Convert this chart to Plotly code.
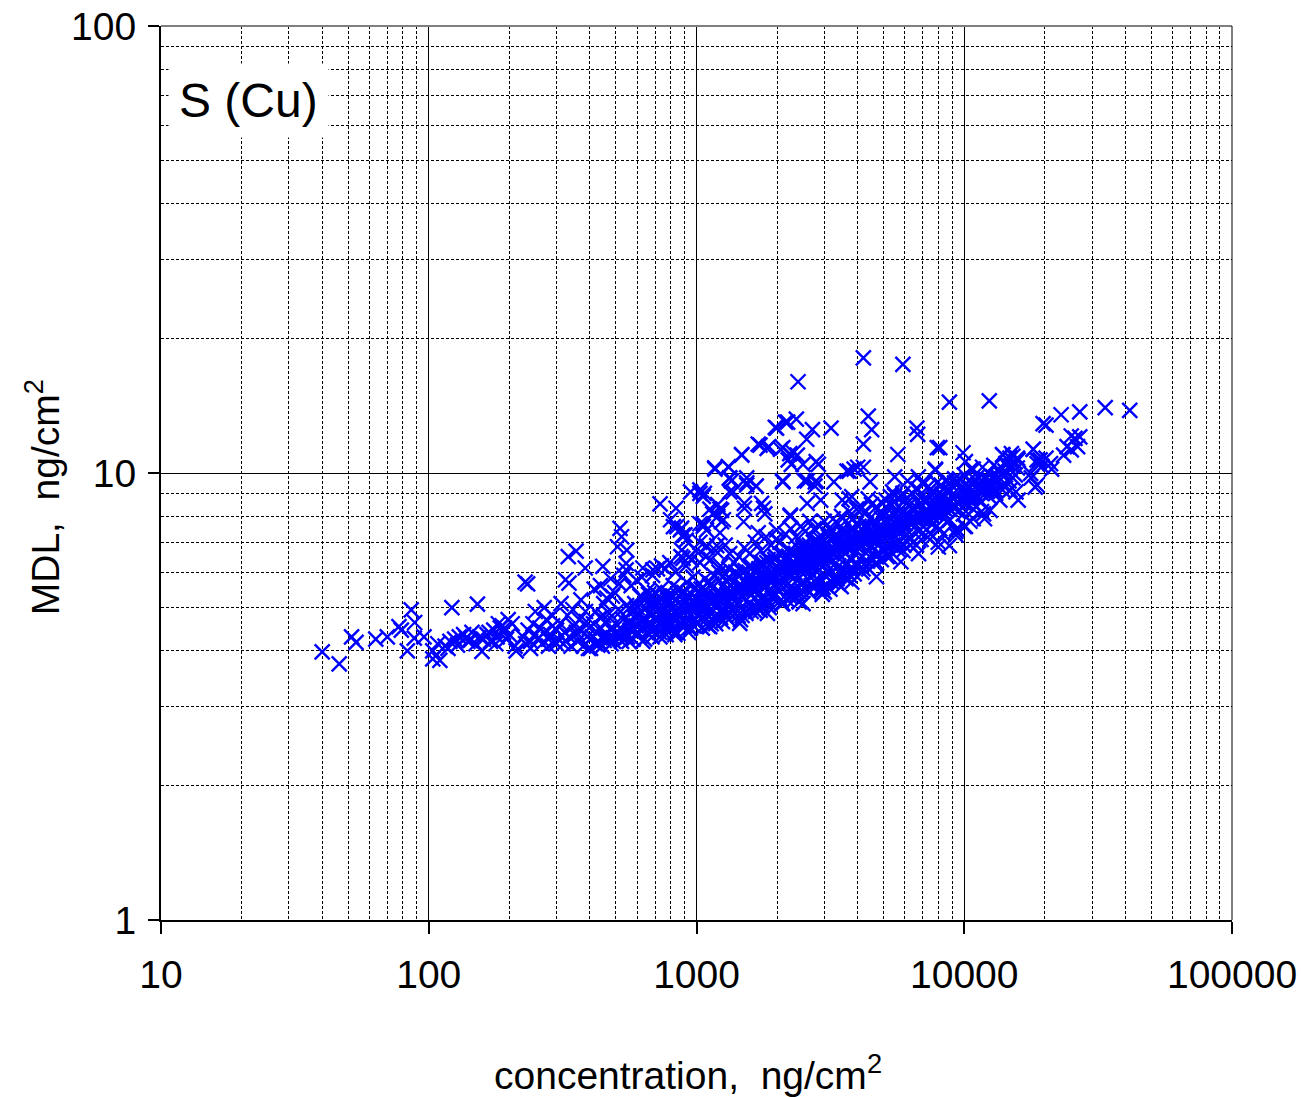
import plotly.graph_objects as go

# ---------------- data (concentration, ng/cm2  vs  MDL, ng/cm2) ----------------
conc_tail = [40, 46.3, 51.5, 53.5, 63.4, 70, 77.4, 79, 83.2, 86,
             88.6, 88.3, 96, 103.5, 103.5, 110, 122, 152,
             108, 115, 120, 125, 130, 135, 140, 145, 150, 155,
             160, 165, 170, 175, 180, 185, 190, 195, 200, 205,
             210, 158, 212, 182, 192, 198,
             118, 128, 138, 143, 168, 178, 188]
mdl_tail = [3.98, 3.74, 4.30, 4.18, 4.25, 4.30, 4.53, 4.45, 4.0, 4.94,
            4.63, 4.27, 4.30, 4.0, 3.84, 3.81, 5.0, 5.09,
            4.15, 4.1, 4.2, 4.25, 4.3, 4.35, 4.2, 4.4, 4.15, 4.3,
            4.25, 4.35, 4.2, 4.45, 4.3, 4.5, 4.4, 4.25, 4.35, 4.6,
            4.1, 3.99, 4.0, 4.6, 4.5, 4.7,
            4.05, 4.12, 4.28, 4.22, 4.4, 4.15, 4.55]

conc_low = [
    225, 230, 235, 240, 245, 250, 255, 260, 265, 270, 275, 280, 285, 290, 295, 300, 250, 270, 290, 240, 280, 300,
    305, 310, 318, 322, 330, 335, 340, 348, 352, 360, 365, 372, 378, 385, 390, 395, 398, 312, 345, 370, 388, 325, 356,
    402, 408, 412, 418, 420, 425, 430, 436, 440, 445, 450, 455, 460, 468, 472, 480, 485, 490, 498, 505,
    510, 518, 525, 532, 540, 548, 415, 438, 462, 478, 495, 515, 535, 428, 452, 488, 522,
    552, 560, 565, 572, 580, 588, 595, 600, 608, 615, 622, 630, 638, 645, 652, 660, 668, 675, 682, 690,
    698, 705, 712, 720, 728, 735, 742, 748, 570, 598, 625, 655, 685, 715, 740, 585, 618, 648, 678, 708,
    738, 562, 592, 632, 662, 695, 725,
    755, 762, 770, 778, 785, 792, 800, 810, 818, 825, 832, 840, 848, 855, 862, 870, 880, 890, 900, 910,
    920, 930, 940, 950, 960, 970, 980, 990, 765, 795, 835, 875, 915, 955, 995, 780, 820, 860, 905, 945,
    985, 772, 812, 852, 895, 935, 975]
mdl_low = [
    4.3, 4.15, 4.45, 4.2, 4.6, 4.35, 4.25, 4.5, 4.15, 4.4, 4.7, 4.25, 4.35, 4.55, 4.2, 4.45, 4.9, 5.0, 4.8, 4.05, 4.1, 4.15,
    4.25, 4.6, 4.15, 4.4, 4.8, 4.3, 4.1, 4.55, 4.35, 4.2, 4.7, 4.45, 4.1, 4.9, 4.3, 4.05, 4.5, 5.1, 4.95, 5.2, 4.65, 4.2, 4.4,
    4.05, 4.3, 4.6, 4.15, 4.9, 4.4, 4.2, 4.75, 4.5, 4.1, 5.1, 4.35, 4.65, 4.25, 4.85, 4.45, 5.3, 4.2, 4.6, 4.35,
    4.95, 4.5, 4.2, 4.7, 4.4, 5.05, 5.5, 5.6, 5.25, 5.8, 5.4, 5.65, 5.9, 4.12, 4.22, 4.28, 4.3,
    4.3, 4.65, 4.45, 4.9, 4.25, 5.1, 4.55, 4.35, 4.8, 5.3, 4.5, 4.2, 4.7, 5.0, 4.4, 4.85, 5.2, 4.6, 4.3, 4.95,
    5.4, 4.5, 4.75, 5.15, 4.4, 5.5, 4.9, 4.6, 5.6, 5.75, 5.85, 5.45, 5.9, 6.1, 6.2, 4.75, 4.6, 4.55, 4.8, 4.7,
    5.05, 5.0, 4.95, 5.25, 5.35, 5.1, 5.3,
    4.5, 4.85, 4.35, 5.1, 4.65, 5.35, 4.45, 4.95, 5.6, 4.7, 4.4, 5.2, 4.9, 5.5, 4.6, 5.05, 4.8, 5.4, 4.55, 5.15,
    5.7, 4.75, 5.3, 4.5, 5.0, 5.85, 4.7, 5.25, 6.1, 6.3, 6.0, 6.5, 6.2, 6.4, 6.7, 5.2, 5.0, 5.3, 4.95, 5.1,
    4.9, 4.45, 4.6, 4.38, 4.65, 4.5, 4.55]

conc_mid = [
    1005, 1015, 1025, 1040, 1050, 1060, 1075, 1085, 1095, 1110, 1120, 1135, 1150, 1160, 1175, 1190, 1200, 1215, 1230, 1245,
    1260, 1275, 1290, 1305, 1320, 1340, 1355, 1370, 1385, 1395, 1030, 1080, 1130, 1180, 1230, 1280, 1330, 1380,
    1010, 1065, 1125, 1185, 1240, 1300, 1360, 1045, 1105, 1165, 1225, 1285, 1345,
    1410, 1430, 1450, 1465, 1480, 1500, 1520, 1540, 1555, 1575, 1590, 1610, 1630, 1650, 1670, 1690, 1710, 1730, 1750, 1770,
    1790, 1810, 1830, 1850, 1870, 1890, 1910, 1935, 1960, 1985, 1440, 1510, 1580, 1660, 1740, 1820, 1900, 1980,
    1420, 1490, 1560, 1640, 1720, 1800, 1880, 1960, 1460, 1530, 1600, 1680, 1760, 1840, 1920,
    2010, 2040, 2070, 2100, 2130, 2160, 2190, 2220, 2250, 2280, 2310, 2340, 2370, 2400, 2430, 2460, 2490, 2520, 2550, 2580,
    2610, 2640, 2670, 2700, 2730, 2760, 2790, 2050, 2150, 2250, 2350, 2450, 2550, 2650, 2750,
    2020, 2120, 2220, 2320, 2420, 2520, 2620, 2720, 2080, 2180, 2280, 2380, 2480, 2580, 2680, 2780,
    2060, 2200, 2330, 2470, 2600, 2740,
    2820, 2860, 2900, 2940, 2980, 3020, 3060, 3100, 3150, 3200, 3250, 3300, 3350, 3400, 3450, 3500, 3550, 3600, 3650, 3700,
    3750, 3800, 3850, 3900, 3950, 2880, 3000, 3120, 3240, 3360, 3480, 3600, 3720, 3840, 3960,
    2840, 2960, 3080, 3200, 3320, 3440, 3560, 3680, 3800, 3920, 2900, 3050, 3200, 3350, 3500, 3650, 3800, 3950,
    2950, 3150, 3380, 3620, 3880]
mdl_mid = [
    4.6, 5.2, 4.85, 5.5, 4.5, 5.0, 5.8, 4.7, 5.35, 4.9, 5.6, 4.6, 5.15, 5.9, 4.8, 5.4, 5.05, 6.0, 4.75, 5.25,
    5.6, 4.9, 5.45, 5.1, 6.1, 4.85, 5.3, 5.7, 5.0, 5.5, 6.3, 6.5, 6.4, 6.7, 6.2, 6.9, 6.6, 6.3,
    5.0, 5.1, 5.2, 5.3, 5.35, 5.2, 5.4, 4.7, 4.55, 4.65, 4.9, 4.8, 4.95,
    5.2, 4.8, 5.6, 5.0, 6.0, 5.3, 4.9, 5.7, 5.45, 5.1, 6.2, 5.35, 4.95, 5.8, 5.5, 5.15, 6.1, 5.4, 5.0, 5.9,
    5.6, 5.25, 6.3, 5.45, 5.1, 6.0, 5.7, 5.3, 6.4, 5.55, 6.5, 6.8, 6.6, 7.0, 6.7, 7.2, 6.9, 7.1,
    5.4, 5.5, 5.6, 5.5, 5.7, 5.6, 5.8, 5.9, 4.7, 4.85, 4.9, 5.0, 5.05, 5.2, 5.25,
    5.5, 6.1, 5.2, 5.8, 6.4, 5.6, 6.0, 5.3, 6.6, 5.9, 5.5, 6.2, 5.75, 6.5, 5.4, 6.0, 6.8, 5.7, 6.3, 5.5,
    6.1, 6.9, 5.85, 6.4, 5.6, 6.2, 7.0, 7.0, 7.3, 7.5, 7.2, 7.6, 7.4, 7.8, 7.5,
    5.7, 5.8, 5.9, 6.0, 6.1, 6.15, 6.2, 6.3, 5.1, 5.2, 5.3, 5.35, 5.45, 5.5, 5.6, 5.7,
    6.3, 6.5, 6.6, 6.7, 6.75, 6.8,
    6.0, 6.5, 5.7, 6.8, 6.2, 5.9, 7.0, 6.4, 6.1, 6.7, 5.8, 7.2, 6.5, 6.2, 6.9, 6.0, 7.3, 6.6, 6.3, 7.1,
    6.8, 6.4, 7.5, 6.6, 7.0, 7.6, 7.8, 7.5, 7.9, 7.7, 8.0, 7.8, 8.2, 7.9, 8.3,
    6.3, 6.4, 6.5, 6.6, 6.7, 6.8, 6.9, 7.0, 7.05, 7.1, 5.5, 5.6, 5.7, 5.8, 5.9, 6.0, 6.1, 6.2,
    5.35, 5.5, 5.65, 5.8, 5.95]

# extra points filling the dense core of the band
conc_core = [
    720, 760, 800, 840, 880, 920, 960, 1000, 1040, 1080, 1120, 1160, 1200, 1250, 1300, 1350, 1400, 1450, 1500, 1550,
    1600, 1650, 1700, 1760, 1820, 1880, 1940, 2000, 2070, 2140, 2210, 2280, 2360, 2440, 2520, 2600, 2690, 2780, 2870, 2960,
    3060, 3160, 3260, 3370, 3480, 3590, 3710, 3830, 3960, 4090, 4220, 4360, 4500, 4650, 4800, 4960, 5120, 5290, 5460, 5640,
    5820, 6010, 6210, 6410, 6620, 6840, 7060, 7290, 7530, 7780, 8030, 8290, 8560, 8840, 9130,
    740, 820, 900, 980, 1060, 1140, 1220, 1320, 1420, 1520, 1620, 1730, 1850, 1970, 2100, 2240, 2400, 2560, 2730, 2910,
    3110, 3320, 3540, 3780, 4040, 4310, 4600, 4910, 5240, 5590, 5970, 6370, 6800, 7260, 7750, 8270, 8830]
mdl_core = [
    4.7, 4.75, 4.8, 4.85, 4.9, 4.95, 5.0, 5.05, 5.1, 5.12, 5.15, 5.2, 5.25, 5.3, 5.35, 5.4, 5.45, 5.5, 5.55, 5.6,
    5.65, 5.7, 5.75, 5.8, 5.85, 5.9, 5.95, 6.0, 6.05, 6.1, 6.15, 6.2, 6.25, 6.3, 6.35, 6.4, 6.45, 6.5, 6.55, 6.6,
    6.65, 6.7, 6.75, 6.8, 6.85, 6.9, 6.95, 7.0, 7.05, 7.1, 7.15, 7.2, 7.25, 7.3, 7.35, 7.4, 7.45, 7.5, 7.55, 7.6,
    7.65, 7.7, 7.75, 7.8, 7.85, 7.9, 7.95, 8.0, 8.05, 8.1, 8.15, 8.2, 8.25, 8.3, 8.35,
    5.2, 5.3, 5.4, 5.5, 5.55, 5.65, 5.75, 5.85, 5.95, 6.05, 6.15, 6.3, 6.4, 6.5, 6.6, 6.7, 6.8, 6.9, 7.0, 7.1,
    7.2, 7.3, 7.4, 7.5, 7.6, 7.7, 7.8, 7.9, 8.0, 8.1, 8.2, 8.35, 8.5, 8.65, 8.8, 8.95, 9.1]

conc_core2 = [450, 520, 600, 680, 780, 880, 990, 1110, 1250, 1400, 1570, 1760, 1980, 2220,
              2490, 2800, 3140, 3520, 3950, 4430, 4970, 5580, 6260, 7020, 7880, 8840, 9920, 11100]
mdl_core2_lo = [4.3, 4.35, 4.4, 4.45, 4.55, 4.6, 4.7, 4.8, 4.9, 5.0, 5.1, 5.2, 5.35, 5.5,
                5.65, 5.8, 5.95, 6.1, 6.3, 6.5, 6.7, 6.9, 7.1, 7.35, 7.6, 7.85, 8.1, 8.4]
mdl_core2_hi = [4.8, 4.9, 5.0, 5.1, 5.25, 5.4, 5.55, 5.7, 5.85, 6.0, 6.15, 6.3, 6.5, 6.7,
                6.9, 7.1, 7.3, 7.5, 7.7, 7.9, 8.1, 8.3, 8.5, 8.7, 8.9, 9.1, 9.3, 9.6]
conc_core3 = [480, 560, 640, 730, 830, 935, 1050, 1180, 1320, 1480, 1660, 1870, 2100, 2350,
              2640, 2970, 3330, 3730, 4190, 4700, 5270, 5910, 6630, 7440, 8350, 9370, 10500, 11800]
mdl_core3_mid = [4.5, 4.6, 4.7, 4.8, 4.9, 5.0, 5.1, 5.25, 5.4, 5.55, 5.7, 5.85, 6.0, 6.15,
                 6.3, 6.5, 6.7, 6.9, 7.1, 7.3, 7.5, 7.7, 7.9, 8.1, 8.35, 8.6, 8.85, 9.1]
mdl_core3_lo = [4.15, 4.2, 4.25, 4.3, 4.35, 4.4, 4.5, 4.6, 4.7, 4.8, 4.9, 5.0, 5.1, 5.25,
                5.4, 5.55, 5.7, 5.9, 6.1, 6.3, 6.5, 6.7, 6.9, 7.1, 7.3, 7.5, 7.8, 8.1]

conc_high = [
    4020, 4080, 4150, 4220, 4290, 4360, 4430, 4500, 4580, 4660, 4740, 4820, 4900, 4980, 5060, 5150, 5240, 5330, 5420, 5510,
    5600, 5700, 5800, 5900, 4100, 4300, 4500, 4700, 4900, 5100, 5300, 5500, 5700, 5900,
    4050, 4250, 4450, 4650, 4850, 5050, 5250, 5450, 5650, 5850, 4150, 4400, 4650, 4900, 5150, 5400, 5650, 5950,
    4000, 4350, 4700, 5050, 5400, 5750,
    6050, 6150, 6250, 6350, 6450, 6550, 6650, 6750, 6850, 6950, 7050, 7150, 7250, 7350, 7450, 7550, 7650, 7750, 7850, 7950,
    8050, 8200, 8350, 8500, 8650, 8800, 8950, 6100, 6400, 6700, 7000, 7300, 7600, 7900, 8200, 8500, 8800,
    6200, 6500, 6800, 7100, 7400, 7700, 8000, 8300, 8600, 8900, 6300, 6900, 7500, 8100, 8700,
    9100, 9300, 9500, 9700, 9900, 10100, 10300, 10500, 10700, 10900, 11100, 11300, 11600, 11900, 12200, 12500, 12800,
    9200, 9600, 10000, 10400, 10800, 11200, 11700, 12300, 12900, 9400, 9800, 10200, 10600, 11000, 11500, 12000, 12600,
    9300, 10000, 10800, 11600,
    10200, 10600, 11000, 11400, 11800, 12200, 12600, 13000, 13400, 13800, 14200, 14600, 15000, 15400, 15800,
    10800, 11500, 12300, 13100, 13900, 14700, 15500, 10400, 11200, 12000, 12800, 13600, 14400, 15200]
mdl_high = [
    6.8, 7.3, 6.5, 7.0, 7.6, 6.7, 7.2, 6.9, 7.8, 7.1, 6.6, 7.4, 7.0, 8.0, 7.3, 6.9, 7.6, 7.2, 8.1, 7.5,
    7.0, 7.8, 7.4, 8.2, 8.3, 8.2, 8.5, 8.4, 8.6, 8.7, 8.5, 8.9, 8.8, 9.0,
    6.9, 7.0, 7.1, 7.2, 7.3, 7.4, 7.45, 7.55, 7.6, 7.7, 6.0, 6.1, 6.25, 6.4, 6.5, 6.6, 6.75, 6.9,
    6.2, 6.35, 6.5, 6.7, 6.9, 7.0,
    7.5, 8.0, 7.2, 7.8, 8.3, 7.6, 8.1, 7.4, 8.5, 7.9, 7.6, 8.2, 8.7, 7.8, 8.4, 8.0, 7.7, 8.6, 8.2, 8.9,
    8.3, 8.0, 8.8, 8.5, 9.1, 8.3, 8.9, 8.8, 9.0, 9.2, 8.9, 9.3, 9.1, 9.5, 9.4, 9.6, 9.5,
    7.8, 7.9, 8.0, 8.1, 8.2, 8.3, 8.35, 8.45, 8.55, 8.65, 6.9, 7.1, 7.3, 7.5, 7.8,
    8.4, 8.9, 8.2, 8.7, 9.1, 8.5, 8.8, 9.3, 8.6, 9.0, 8.8, 9.2, 9.0, 9.4, 9.1, 9.6, 9.3,
    9.5, 9.7, 9.9, 9.6, 10.2, 9.8, 10.3, 10.0, 10.4, 8.6, 8.7, 8.8, 8.9, 9.0, 9.1, 9.2, 9.3,
    7.4, 7.6, 7.9, 8.2,
    8.6, 8.8, 8.9, 9.1, 9.2, 9.3, 9.5, 9.6, 9.8, 9.9, 10.1, 10.3, 10.4, 10.6, 10.8,
    8.3, 8.6, 8.9, 9.0, 9.4, 9.6, 9.9, 9.2, 9.4, 9.7, 9.8, 10.1, 10.5, 10.9]

conc_top = [13580, 14810, 15790, 14250, 13050, 14810, 13940, 15900,
            18100, 19200, 18700, 20200, 21000, 21200, 17700, 18400, 20200,
            23000, 27000, 33600, 41500, 25100, 25900, 27000, 24200, 23500, 25100, 26500,
            9900, 10100, 10600, 8800, 12400, 8100,
            13900, 15000, 14300, 14800, 15200, 13400, 18100, 18700, 19500, 17800, 18700,
            19700, 15600, 13900, 15900]
mdl_top = [8.7, 9.16, 10.26, 9.9, 9.16, 10.8, 10.97, 10.7,
           11.3, 10.7, 10.5, 10.8, 10.5, 10.2, 9.98, 9.3, 12.8,
           13.5, 13.7, 14.0, 13.8, 12.1, 11.95, 12.05, 11.45, 10.97, 11.27, 11.45,
           11.1, 10.6, 10.2, 14.4, 14.5, 11.4,
           11.0, 11.05, 10.5, 10.2, 9.75, 10.2, 11.3, 10.7, 10.35, 9.75, 9.4,
           12.9, 9.07, 9.17, 8.7]

conc_out = [4200, 5900, 2395, 4380, 4510, 4200, 5650, 6650, 6700, 7930,
            7800, 1970, 2150, 2360, 2710, 2580, 3180, 1700, 1860, 2060,
            2230, 2380, 2260, 2500, 2800, 2850, 1475, 1170, 1320, 1330,
            1540, 1670, 1370, 1540, 2100, 2590, 2780, 3260, 3720, 4200,
            4450, 4380, 5500, 6140, 6740, 7120, 1030, 1070, 1200, 1240,
            1510, 1750, 1800, 1060, 1240, 1500, 1700, 2240, 2590, 2910,
            3500, 3800, 5100, 5300, 5850, 6100, 3880, 5400, 8650, 9200,
            9450, 2530, 2800, 2770, 3720, 3650, 4000, 6950, 7800, 229,
            234, 332, 355, 324, 334, 384, 447, 518, 525, 507,
            549, 546, 546, 731, 838, 800, 820, 870, 890, 950,
            1030, 1060, 1172, 1315, 1330, 1476, 1726, 1836, 1990, 2190,
            2100, 2300, 2200, 2100, 1540, 1670, 1510, 1780, 1122, 1224,
            1030, 1090, 1224, 1190, 1090, 2240, 1990, 630, 687, 845,
            880, 905, 915, 880, 890, 940, 1150, 1200, 1260, 1060,
            1030, 1090, 1350, 1330, 8000, 5800, 4700, 3800, 3470, 3000,
            2950, 2500, 2420, 1840, 1730, 1450, 1250, 1120, 12500, 11900,
            10100, 9300, 8800, 8000, 6750]
mdl_out = [18.1, 17.5, 16.0, 13.4, 12.5, 11.6, 11.0, 12.6, 12.2, 11.4,
           10.15, 12.65, 13.0, 13.2, 12.5, 11.9, 12.6, 11.6, 11.45, 11.3,
           11.05, 10.97, 10.45, 10.45, 10.6, 10.45, 11.0, 10.27, 10.3, 9.75,
           9.75, 9.35, 9.07, 9.4, 9.55, 9.6, 9.55, 9.55, 10.1, 10.3,
           9.55, 8.75, 9.8, 9.6, 9.8, 9.5, 9.0, 9.0, 8.5, 8.25,
           8.55, 8.55, 8.1, 7.7, 7.78, 7.78, 7.35, 8.05, 8.55, 8.7,
           8.7, 8.85, 8.4, 8.85, 8.85, 8.55, 10.2, 9.07, 9.6, 9.7,
           9.5, 9.6, 9.6, 9.35, 8.75, 10.1, 10.3, 9.5, 10.2, 5.7,
           5.65, 6.5, 6.69, 5.77, 5.67, 6.13, 6.18, 7.52, 7.2, 6.84,
           6.72, 6.28, 6.07, 8.53, 8.34, 7.86, 7.59, 7.46, 7.26, 9.07,
           9.17, 8.87, 10.2, 10.33, 9.74, 10.97, 11.55, 11.35, 12.6, 13.0,
           11.4, 11.1, 10.7, 9.6, 9.5, 9.35, 8.34, 8.34, 8.3, 8.3,
           7.7, 7.45, 7.35, 6.88, 6.83, 8.0, 7.46, 6.13, 6.07, 7.59,
           7.53, 7.27, 7.08, 6.72, 6.44, 6.5, 8.1, 8.0, 7.86, 7.6,
           7.0, 6.88, 9.6, 9.07, 6.83, 6.33, 5.86, 5.7, 5.57, 5.42,
           5.47, 5.1, 5.15, 4.85, 4.93, 4.61, 4.65, 4.53, 8.25, 7.9,
           7.6, 7.27, 6.88, 7.0, 6.6]

x_tickvals = [10, 100, 1000, 10000, 100000]
x_ticklabels = ["10", "100", "1000", "10000", "100000"]
y_tickvals = [1, 10, 100]
y_ticklabels = ["1", "10", "100"]

panel_label = "S (Cu)"
x_title = "concentration,  ng/cm<sup>2</sup>"
y_title = "MDL,  ng/cm<sup>2</sup>"

pairs = [(conc_tail, mdl_tail), (conc_low, mdl_low), (conc_mid, mdl_mid),
         (conc_core, mdl_core), (conc_core2, mdl_core2_lo), (conc_core2, mdl_core2_hi),
         (conc_core3, mdl_core3_mid), (conc_core3, mdl_core3_lo),
         (conc_high, mdl_high), (conc_top, mdl_top), (conc_out, mdl_out)]
for cx, cy in pairs:
    assert len(cx) == len(cy), (len(cx), len(cy))

xs = [v for cx, _ in pairs for v in cx]
ys = [v for _, cy in pairs for v in cy]

FONT = "Liberation Sans, Arial, sans-serif"

fig = go.Figure()
fig.add_trace(go.Scatter(
    x=xs, y=ys, mode="markers",
    marker=dict(symbol="x-thin-open", size=15, color="#0000FF",
                line=dict(color="#0000FF", width=2.4)),
    hoverinfo="x+y", showlegend=False))

minor_x = [m * 10 ** e for e in range(1, 5) for m in range(2, 10)]
minor_y = [m * 10 ** e for e in range(0, 2) for m in range(2, 10)]

fig.update_xaxes(
    type="log", range=[1, 5], automargin=False,
    tickmode="array", tickvals=x_tickvals, ticktext=x_ticklabels,
    ticks="outside", ticklen=12, tickwidth=1.5, tickcolor="black",
    ticklabelstandoff=7,
    showline=True, linecolor="black", linewidth=2,
    showgrid=True, gridcolor="black", gridwidth=1,
    minor=dict(tickmode="array", tickvals=minor_x, showgrid=True,
               gridcolor="black", gridwidth=1, griddash="3px,2px", ticks=""),
    tickfont=dict(family=FONT, size=39, color="black"),
    zeroline=False)
fig.update_yaxes(
    type="log", range=[0, 2], automargin=False,
    tickmode="array", tickvals=y_tickvals, ticktext=y_ticklabels,
    ticks="outside", ticklen=11, tickwidth=1.5, tickcolor="black",
    ticklabelstandoff=4,
    showline=True, linecolor="black", linewidth=2,
    showgrid=True, gridcolor="black", gridwidth=1,
    minor=dict(tickmode="array", tickvals=minor_y, showgrid=True,
               gridcolor="black", gridwidth=1, griddash="3px,2px", ticks=""),
    tickfont=dict(family=FONT, size=39, color="black"),
    zeroline=False)

fig.add_shape(type="line", xref="paper", yref="paper", x0=0, x1=1, y0=1, y1=1,
              line=dict(color="#808080", width=2))
fig.add_shape(type="line", xref="paper", yref="paper", x0=1, x1=1, y0=0, y1=1,
              line=dict(color="black", width=1))

fig.add_annotation(text=panel_label, xref="paper", yref="paper",
                   x=0.082, y=0.917, xanchor="center", yanchor="middle",
                   showarrow=False, bgcolor="white", borderpad=10,
                   font=dict(family=FONT, size=48, color="black"))
fig.add_annotation(text=x_title, xref="paper", yref="paper",
                   x=0.492, y=-0.171, xanchor="center", yanchor="middle",
                   showarrow=False, font=dict(family=FONT, size=39, color="black"))
fig.add_annotation(text=y_title, xref="paper", yref="paper",
                   x=-0.111, y=0.473, xanchor="center", yanchor="middle",
                   textangle=-90, showarrow=False,
                   font=dict(family=FONT, size=39, color="black"))

fig.update_layout(
    width=1301, height=1097,
    margin=dict(l=161, r=69, t=26, b=177, autoexpand=False),
    paper_bgcolor="white", plot_bgcolor="white",
    showlegend=False,
    font=dict(family=FONT, color="black"))

fig.write_html("out.html", config={"displayModeBar": False},
               post_script="document.body.style.margin='0px';document.body.style.overflow='hidden';")
